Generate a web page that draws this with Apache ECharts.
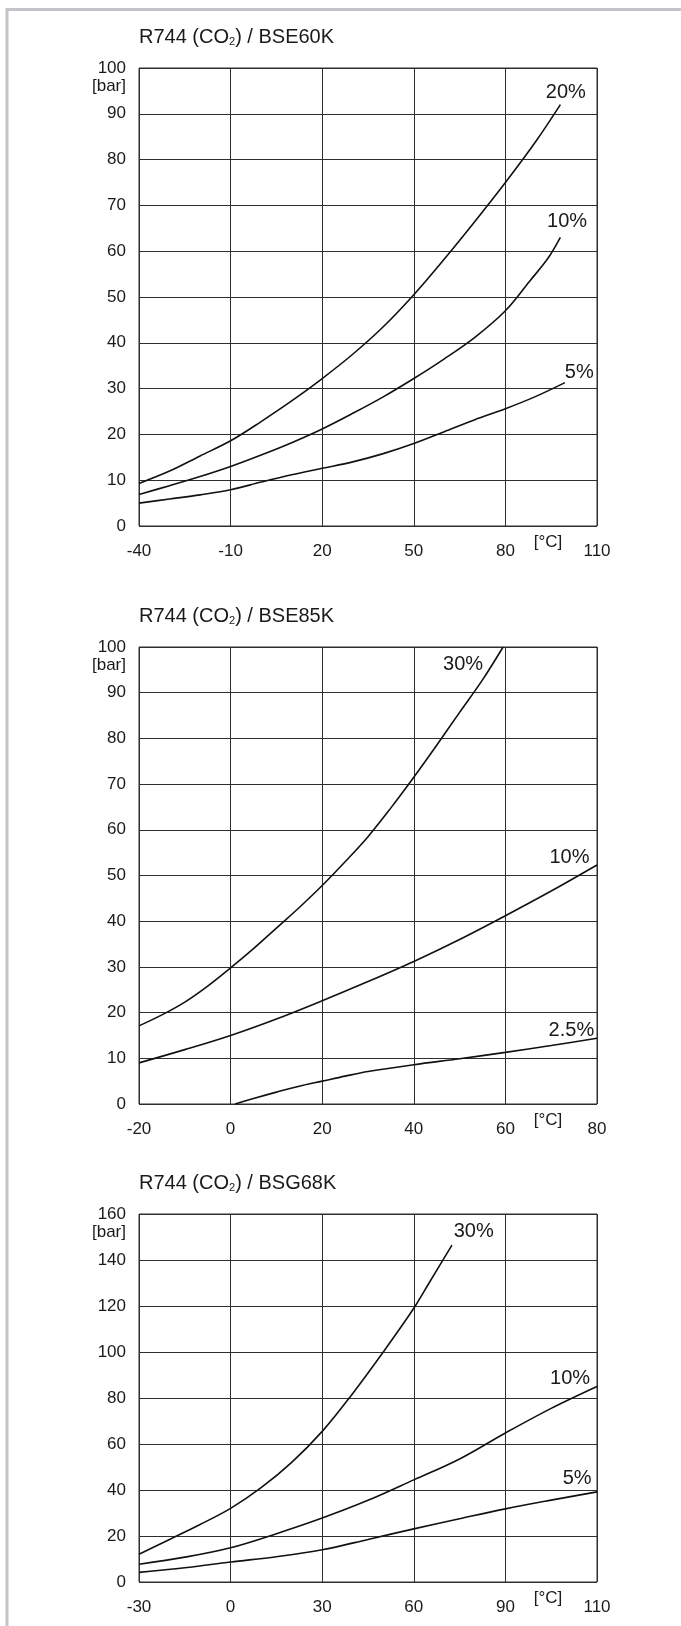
<!DOCTYPE html>
<html>
<head>
<meta charset="utf-8">
<script src="https://cdn.jsdelivr.net/npm/echarts@6/dist/echarts.min.js"></script>
<style>
  html, body { margin: 0; padding: 0; background: #fff; }
  #chart { width: 681px; height: 1626px; }
</style>
</head>
<body>
<div id="chart"></div>
<script>
// ---- Panel 1: R744 (CO2) / BSE60K  — pressure [bar] vs temperature [°C]
const modelA = 'BSE60K';
const xTicksA = ['-40', '-10', '20', '50', '80', '110'];
const bse60k_20 = [[-40, 9.3], [-30, 12], [-20, 15.3], [-10, 18.6], [0, 22.8], [10, 27.3], [20, 32.2], [30, 37.5], [40, 43.5], [50, 50.5], [60, 58.3], [70, 66.5], [80, 75], [90, 84], [98, 92]];
const bse60k_10 = [[-40, 6.9], [-30, 8.8], [-20, 10.8], [-10, 13], [0, 15.5], [10, 18.2], [20, 21.2], [30, 24.6], [40, 28.2], [50, 32.2], [60, 36.5], [70, 41.2], [80, 47], [88, 53.5], [94, 58.5], [98, 63]];
const bse60k_5 = [[-40, 5], [-30, 5.9], [-20, 6.8], [-10, 7.9], [0, 9.6], [10, 11.2], [20, 12.6], [30, 14], [40, 15.8], [50, 18], [60, 20.6], [70, 23.2], [80, 25.6], [90, 28.3], [99.5, 31.3]];

// ---- Panel 2: R744 (CO2) / BSE85K
const modelB = 'BSE85K';
const xTicksB = ['-20', '0', '20', '40', '60', '80'];
const bse85k_30 = [[-20, 17.1], [-15, 19.5], [-10, 22.3], [-5, 25.8], [0, 29.8], [5, 34], [10, 38.5], [15, 43], [20, 47.8], [25, 53], [30, 58.5], [35, 64.8], [40, 71.5], [45, 78.5], [50, 85.7], [55, 92.8], [59.5, 100]];
const bse85k_10 = [[-20, 9], [-10, 11.9], [0, 15], [10, 18.6], [20, 22.6], [30, 26.8], [40, 31.2], [50, 36], [60, 41.2], [70, 46.6], [80, 52.3]];
const bse85k_2_5 = [[1, 0], [5, 1.2], [10, 2.6], [15, 3.9], [20, 5], [25, 6.1], [30, 7.1], [40, 8.6], [50, 9.9], [60, 11.3], [70, 12.8], [80, 14.4]];

// ---- Panel 3: R744 (CO2) / BSG68K
const modelC = 'BSG68K';
const xTicksC = ['-30', '0', '30', '60', '90', '110'];
const bsg68k_30 = [[-30, 12.1], [-20, 18.5], [-10, 25], [0, 32], [10, 41], [20, 52], [30, 65.5], [40, 82], [50, 100], [60, 119], [65, 130], [72.5, 146.5]];
const bsg68k_10 = [[-30, 7.7], [-15, 10.8], [0, 14.9], [15, 21], [30, 27.8], [45, 35.5], [60, 44.4], [75, 53.5], [90, 64.8], [105, 75.5], [120, 85]];
const bsg68k_5 = [[-30, 4.2], [-15, 6.2], [0, 8.7], [15, 11], [30, 14], [45, 18.5], [60, 23.1], [75, 27.5], [90, 31.8], [105, 35.6], [120, 39.2]];

const FONT = '"Liberation Sans", Arial, Helvetica, sans-serif';
const INK = '#1a1a1a';
const GRIDLINE = '#2e2e2e';

// one curve; the last point carries the percentage tag
function curve(panel, data, tag, dx, dy) {
  const pts = data.map((p, i) => {
    if (i < data.length - 1) return p;
    return {
      value: p,
      label: {
        show: true, formatter: tag, position: 'inside', offset: [dx, dy],
        fontSize: 20, color: INK, fontFamily: FONT
      }
    };
  });
  return {
    type: 'line', xAxisIndex: panel, yAxisIndex: panel, data: pts,
    smooth: 0.35, symbol: 'circle', symbolSize: 0, showSymbol: true,
    lineStyle: { color: '#111', width: 1.6 }, itemStyle: { color: '#111' },
    silent: true, animation: false, z: 5
  };
}

const panels = [
  { model: modelA, top: 68, height: 458, xMin: -40, xMax: 110, xStep: 30, ticks: xTicksA, yMax: 100, yStep: 10 },
  { model: modelB, top: 647, height: 457, xMin: -20, xMax: 80, xStep: 20, ticks: xTicksB, yMax: 100, yStep: 10 },
  { model: modelC, top: 1214, height: 368, xMin: -30, xMax: 120, xStep: 30, ticks: xTicksC, yMax: 160, yStep: 20 }
];

const option = {
  backgroundColor: '#fff',
  animation: false,
  title: panels.map(p => ({
    text: 'R744 (CO{s|2}) / ' + p.model,
    left: 139, top: p.top - 41, padding: 0,
    textStyle: {
      fontSize: 20, fontWeight: 'normal', color: INK, fontFamily: FONT,
      rich: { s: { fontSize: 11, verticalAlign: 'bottom', color: INK, fontFamily: FONT } }
    }
  })),
  grid: panels.map(p => ({
    left: 139, width: 458, top: p.top, height: p.height,
    show: true, borderColor: GRIDLINE, borderWidth: 1, containLabel: false
  })),
  xAxis: panels.map((p, i) => ({
    gridIndex: i, type: 'value', min: p.xMin, max: p.xMax, interval: p.xStep,
    axisLine: { show: false }, axisTick: { show: false },
    splitLine: { show: true, lineStyle: { color: GRIDLINE, width: 1 } },
    axisLabel: {
      margin: 17, fontSize: 17, color: INK, fontFamily: FONT,
      formatter: (v) => p.ticks[Math.round((v - p.xMin) / p.xStep)]
    },
    name: '[°C]', nameLocation: 'end', nameGap: -49,
    nameTextStyle: { align: 'center', verticalAlign: 'top', padding: [8, 0, 0, 0], fontSize: 17, color: INK, fontFamily: FONT }
  })),
  yAxis: panels.map((p, i) => ({
    gridIndex: i, type: 'value', min: 0, max: p.yMax, interval: p.yStep,
    axisLine: { show: false }, axisTick: { show: false },
    splitLine: { show: true, lineStyle: { color: GRIDLINE, width: 1 } },
    axisLabel: { margin: 13, fontSize: 17, color: INK, fontFamily: FONT }
  })),
  graphic: [{
    type: 'rect', silent: true,
    shape: { x: 7, y: 9.5, width: 700, height: 1700 },
    style: { fill: 'none', stroke: '#c4c4c8', lineWidth: 3 }
  }],
  series: [
    curve(0, bse60k_20, '20%', 5.5, -12.4),
    curve(0, bse60k_10, '10%', 6.7, -16),
    curve(0, bse60k_5, '5%', 14.3, -10.5),
    curve(1, bse85k_30, '30%', -40, 17.8),
    curve(1, bse85k_10, '10%', -27.5, -7.3),
    curve(1, bse85k_2_5, '2.5%', -25.6, -8.2),
    curve(2, bsg68k_30, '30%', 21.7, -13.8),
    curve(2, bsg68k_10, '10%', -26.9, -7.8),
    curve(2, bsg68k_5, '5%', -19.8, -13.8)
  ]
};

const chart = echarts.init(document.getElementById('chart'), null, { renderer: 'canvas' });
chart.setOption(option);

// unit caption "[bar]" under the top tick label of each pressure axis
const unitTexts = panels.map((p, i) => {
  const corner = chart.convertToPixel({ gridIndex: i }, [p.xMin, p.yMax]);
  return {
    type: 'text', silent: true,
    x: corner[0] - 13, y: corner[1] + 10,
    style: { text: '[bar]', align: 'right', verticalAlign: 'top', fontSize: 17, fill: INK, font: '17px ' + FONT }
  };
});
chart.setOption({ graphic: option.graphic.concat(unitTexts) });
</script>
</body>
</html>
